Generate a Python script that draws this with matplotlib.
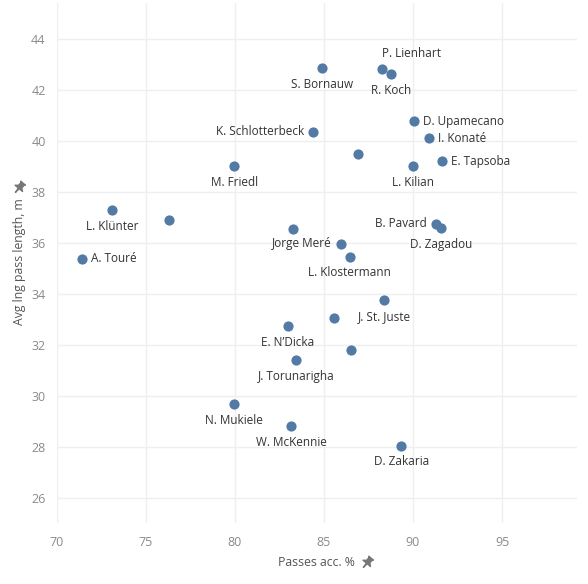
import matplotlib
matplotlib.use("Agg")
import matplotlib.pyplot as plt
from matplotlib.path import Path
import matplotlib.transforms as mtransforms

players = ["S. Bornauw", "P. Lienhart", "R. Koch", "D. Upamecano", "K. Schlotterbeck",
           "I. Konaté", "", "L. Kilian", "E. Tapsoba", "M. Friedl", "L. Klünter", "",
           "A. Touré", "", "B. Pavard", "D. Zagadou", "Jorge Meré", "L. Klostermann",
           "J. St. Juste", "", "E. N’Dicka", "", "J. Torunarigha", "N. Mukiele",
           "W. McKennie", "D. Zakaria"]
passes_acc = [84.92, 88.26, 88.78, 90.06, 84.38,
              90.92, 86.9, 90.0, 91.65, 79.96, 73.1, 76.31,
              71.4, 83.26, 91.27, 91.6, 85.95, 86.46,
              88.39, 85.56, 82.98, 86.52, 83.43, 79.96,
              83.16, 89.34]
avg_len = [42.83, 42.8, 42.6, 40.76, 40.34,
           40.1, 39.48, 39.0, 39.19, 39.0, 37.28, 36.87,
           35.38, 36.52, 36.74, 36.57, 35.95, 35.44,
           33.75, 33.04, 32.73, 31.79, 31.4, 29.67,
           28.8, 28.03]
# label placement: b=below, a=above-right, r=right, l=left
label_pos = ["b", "a", "b", "r", "l",
             "r", "", "b", "r", "b", "b", "",
             "r", "", "l", "b", "l", "b",
             "b", "", "b", "", "b", "b",
             "b", "b"]
x_ticks = [70, 75, 80, 85, 90, 95]
y_ticks = [26, 28, 30, 32, 34, 36, 38, 40, 42, 44]

plt.rcParams['font.family'] = ['Open Sans', 'DejaVu Sans']

fig = plt.figure(figsize=(5.88, 5.84), dpi=100)
ax = fig.add_axes([0.0964, 0.104, 0.8846, 0.891])
ax.set_xlim(70, 99.2)
ax.set_ylim(25.0, 45.4)

for s in ax.spines.values():
    s.set_visible(False)
ax.set_xticks(x_ticks)
ax.set_yticks(y_ticks)
ax.grid(True, color="#efefef", linewidth=1.0)
ax.set_axisbelow(True)
ax.tick_params(length=0, labelsize=9, labelcolor="#8a8a8a", pad=8)
ax.tick_params(axis='x', pad=9)

ax.scatter(passes_acc, avg_len, s=54, color="#5379a5", zorder=3, linewidths=0)

offsets = {"b": (0, -16, "center", "center"),
           "a": (0, 16, "left", "center"),
           "r": (9, 0, "left", "center"),
           "l": (-9, 0, "right", "center")}
for name, x, y, p in zip(players, passes_acc, avg_len, label_pos):
    if not name:
        continue
    dx, dy, ha, va = offsets[p]
    ax.annotate(name, (x, y), xytext=(dx, dy), textcoords="offset pixels",
                ha=ha, va=va, fontsize=8.5, color="#333333")

fig.text(316 / 588, 1 - 562 / 584, "Passes acc. %", ha="center", va="center",
         fontsize=8.8, color="#555555")
fig.text(20 / 588, 1 - 262 / 584, "Avg lng pass length, m", ha="center", va="center",
         rotation=90, fontsize=8.8, color="#555555")

# pushpin icons
pin_verts = [(-1.6, 3.0), (1.6, 3.0), (1.1, 2.4), (1.1, 0.6), (2.6, -0.6),
             (0.3, -0.6), (0.0, -3.4), (-0.3, -0.6), (-2.6, -0.6), (-1.1, 0.6),
             (-1.1, 2.4), (-1.6, 3.0)]
pin_codes = [Path.MOVETO] + [Path.LINETO] * (len(pin_verts) - 2) + [Path.CLOSEPOLY]
pin = Path(pin_verts, pin_codes)
pin_rot = pin.transformed(mtransforms.Affine2D().rotate_deg(-40))
fig.add_artist(plt.Line2D([367 / 588], [1 - 562 / 584], marker=pin_rot, markersize=9,
                          color="#777777", linestyle="none", transform=fig.transFigure))
fig.add_artist(plt.Line2D([19 / 588], [1 - 187 / 584], marker=pin_rot, markersize=9,
                          color="#777777", linestyle="none", transform=fig.transFigure))

fig.savefig("out.png", dpi=100)
